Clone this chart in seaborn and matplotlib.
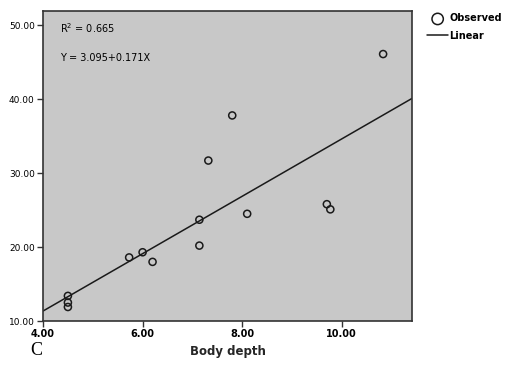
import numpy as np
import matplotlib
matplotlib.use("Agg")
import matplotlib.pyplot as plt
import seaborn as sns

# Observed points
body_depth = [4.5, 4.5, 4.5, 5.73, 6.0, 6.2, 7.14, 7.14, 7.32, 7.8, 8.1, 9.7, 9.77, 10.83]
response = [13.4, 12.5, 11.9, 18.6, 19.3, 18.0, 23.7, 20.2, 31.7, 37.8, 24.5, 25.8, 25.1, 46.1]

# Linear fit line as drawn
fit_intercept = -4.17
fit_slope = 3.88

x_ticks = [4.0, 6.0, 8.0, 10.0]
y_ticks = [10.0, 20.0, 30.0, 40.0, 50.0]

sns.set_style("white")
plt.rcParams["font.family"] = ["Liberation Sans Narrow", "DejaVu Sans"]
plt.rcParams["text.color"] = "black"

fig = plt.figure(figsize=(5.15, 3.72), dpi=100)
ax = fig.add_axes([0.0835, 0.137, 0.7165, 0.833])
ax.set_facecolor("#c8c8c8")

xlim = (4.0, 11.41)
ylim = (10.0, 51.9)

line_x = np.array(xlim)
line_y = fit_intercept + fit_slope * line_x
sns.lineplot(x=line_x, y=line_y, ax=ax, color="#1a1a1a", linewidth=1.1, label="Linear")
sns.scatterplot(x=body_depth, y=response, ax=ax, marker="o", s=26,
                facecolor="none", edgecolor="#1a1a1a", linewidth=1.1, label="Observed")

ax.set_xlim(xlim)
ax.set_ylim(ylim)
ax.set_xticks(x_ticks)
ax.set_yticks(y_ticks)
ax.set_xticklabels([f"{t:.2f}" for t in x_ticks], fontsize=7, fontweight="bold")
ax.set_yticklabels([f"{t:.2f}" for t in y_ticks], fontsize=6.5)
ax.tick_params(direction="out", length=4, width=1, color="#333333", pad=2,
               bottom=True, left=True, labelcolor="black")
for s in ax.spines.values():
    s.set_color("#333333")
    s.set_linewidth(1.2)

ax.set_xlabel("Body depth", fontsize=8.5, fontweight="bold", labelpad=4)
ax.set_ylabel("")

ax.text(0.045, 0.945, "R$^2$ = 0.665", transform=ax.transAxes, fontsize=7, va="center")
ax.text(0.045, 0.85, "Y = 3.095+0.171X", transform=ax.transAxes, fontsize=7, va="center")

handles, labels = ax.get_legend_handles_labels()
order = [labels.index("Observed"), labels.index("Linear")]
leg = ax.legend([handles[i] for i in order], [labels[i] for i in order],
                loc="upper left", bbox_to_anchor=(1.03, 1.005), frameon=False,
                handlelength=2.2, handletextpad=0.1, labelspacing=0.75,
                markerscale=1.6,
                prop={"size": 7, "weight": "bold"}, borderaxespad=0)

fig.text(0.058, 0.058, "C", fontsize=13, family="Liberation Serif", va="center")

fig.savefig("out.png", dpi=100)
